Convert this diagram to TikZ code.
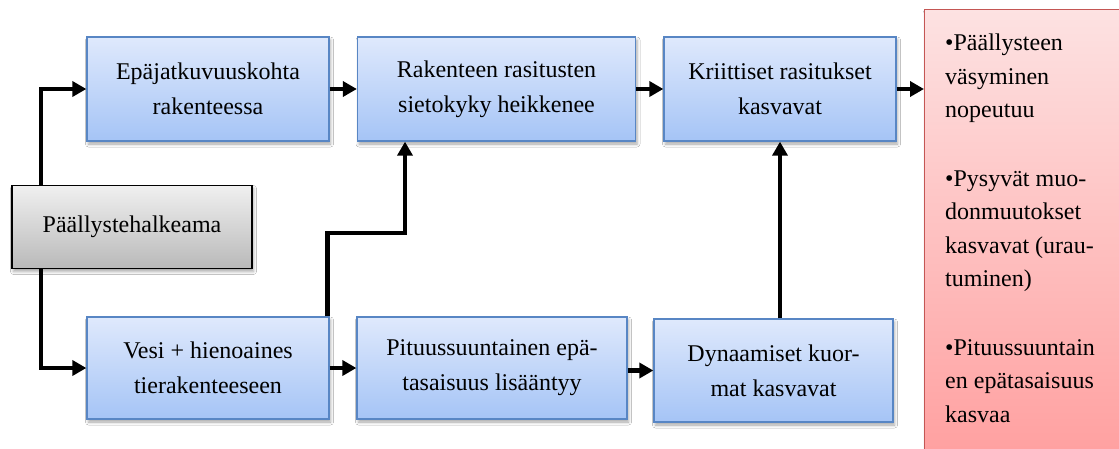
\documentclass[tikz,border=0pt]{standalone}
\usepackage{fontspec}
\setmainfont{Liberation Serif}
\usetikzlibrary{arrows.meta,shadows.blur}

\definecolor{blueTop}{RGB}{223,233,252}
\definecolor{blueBot}{RGB}{165,196,246}
\definecolor{blueEdge}{RGB}{88,134,196}
\definecolor{grayTop}{RGB}{240,240,240}
\definecolor{grayBot}{RGB}{185,185,185}
\definecolor{redTop}{RGB}{253,226,226}
\definecolor{redBot}{RGB}{255,158,158}
\definecolor{redEdge}{RGB}{196,86,84}

\newcommand{\boxfont}{\fontsize{24}{35}\selectfont}
\newcommand{\listfont}{\fontsize{24}{33.5}\selectfont}

\tikzset{
  softshadow/.style={blur shadow={shadow xshift=1.5pt, shadow yshift=-3pt,
      shadow blur radius=3pt, shadow opacity=35}},
  bluebox/.style={draw=blueEdge, line width=1.3pt, top color=blueTop,
      bottom color=blueBot, minimum width=#1, minimum height=104pt,
      inner sep=0pt, align=center, font=\boxfont, softshadow},
  graybox/.style={draw=black, line width=1.3pt, top color=grayTop,
      bottom color=grayBot, minimum width=240pt, minimum height=83pt,
      inner sep=0pt, align=center, font=\boxfont, softshadow},
  redbox/.style={draw=redEdge, line width=1.3pt, top color=redTop,
      bottom color=redBot, minimum width=210pt, minimum height=460pt,
      inner sep=0pt, softshadow},
  flow/.style={line width=4.5pt, -{Triangle[length=14pt,width=15pt]}},
}

\begin{document}
\begin{tikzpicture}[x=1pt,y=-1pt]
  \useasboundingbox (0,0) rectangle (1119,448);
  \clip (0,0) rectangle (1119,448);
  \fill[white] (0,0) rectangle (1119,448);

  % upper row
  \node[bluebox=242pt] (disc) at (208,89) {Epäjatkuvuuskohta\\rakenteessa};
  \node[bluebox=278pt] (tol)  at (496.5,89) {Rakenteen rasitusten\\sietokyky heikkenee};
  \node[bluebox=232pt] (crit) at (780,89) {Kriittiset rasitukset\\kasvavat};

  % source
  \node[graybox] (crack) at (132,227) {Päällystehalkeama};

  % lower row
  \node[bluebox=242pt, minimum height=102pt] (water) at (208,368) {Vesi + hienoaines\\tierakenteeseen};
  \node[bluebox=270pt, minimum height=102pt] (uneven) at (492,368) {Pituussuuntainen epä-\\tasaisuus lisääntyy};
  \node[bluebox=239pt, minimum height=103pt] (dyn) at (773.5,370.5) {Dynaamiset kuor-\\mat kasvavat};

  % consequences
  \node[redbox, anchor=north west] (eff) at (924,9) {};
  \node[anchor=north west, align=left, font=\listfont, inner sep=0pt] (efftext) at (945,34)
    {•Päällysteen\\väsyminen\\nopeutuu\\[35pt]
     •Pysyvät muo-\\donmuutokset\\kasvavat (urau-\\tuminen)\\[35pt]
     •Pituussuuntain\\en epätasaisuus\\kasvaa};

  % connectors
  \coordinate (trunk) at (41,0);
  \draw[flow] (trunk |- crack.north) |- (disc.west);
  \draw[flow] (trunk |- crack.south) |- (water.west);
  \draw[flow] (disc.east) -- (tol.west |- disc.east);
  \draw[flow] (tol.east) -- (crit.west |- tol.east);
  \draw[flow] (crit.east) -- (eff.west |- crit.east);
  \draw[flow] (water.east) -- (uneven.west |- water.east);
  \draw[flow] (uneven.east |- dyn.west) -- (dyn.west);
  \draw[flow] (dyn.north -| crit.south) -- (crit.south);
  \coordinate (bend) at (405,233);
  \draw[flow] ([xshift=-2pt]water.north east) |- (bend) -- (bend |- tol.south);
\end{tikzpicture}
\end{document}
